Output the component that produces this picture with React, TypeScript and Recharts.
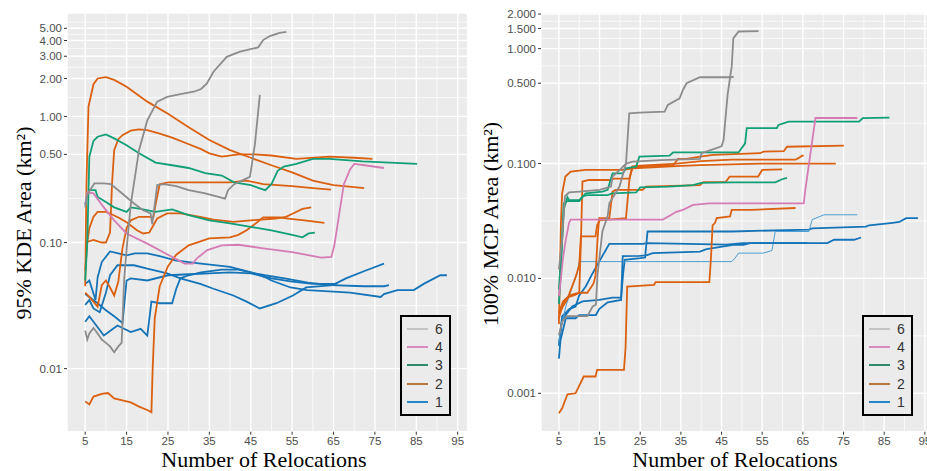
import { CartesianGrid, Line, LineChart, ReferenceLine, XAxis, YAxis } from "recharts"

type Pt = [number, number]

// axes
const xTicks = [5, 15, 25, 35, 45, 55, 65, 75, 85, 95]
const xMinor = [10, 20, 30, 40, 50, 60, 70, 80, 90]
const kdeTicks = [0.01, 0.1, 0.5, 1, 2, 3, 4, 5]
const kdeLabels = ["0.01", "0.10", "0.50", "1.00", "2.00", "3.00", "4.00", "5.00"]
const kdeMinor = [0.0316, 0.2236, 0.7071, 1.414, 2.449, 3.464, 4.472, 5.59]
const mcpTicks = [0.001, 0.01, 0.1, 0.5, 1, 1.5, 2]
const mcpLabels = ["0.001", "0.010", "0.100", "0.500", "1.000", "1.500", "2.000"]
const mcpMinor = [0.00316, 0.0316, 0.2236, 0.7071, 1.2247, 1.732]
const groups = ["6", "4", "3", "2", "1"]

const lineColor: Record<string, string> = { "6": "#8C8C8C", "4": "#D47DB4", "3": "#109F77", "2": "#DB6010", "1": "#1574B8" }
const keyColor: Record<string, string> = { "6": "#C4C4C4", "4": "#D98CC0", "3": "#2E8B6B", "2": "#B5763F", "1": "#2B86C7" }

// 95% KDE area, km2
const kdeG1: Pt[] = [[5, 0.02], [5.5, 0.017], [6, 0.019], [7, 0.021], [8, 0.019], [9, 0.017], [10, 0.016], [11, 0.015], [12, 0.0135], [13, 0.015], [13.8, 0.016], [14.4, 0.05], [15.2, 0.105], [16, 0.2], [18, 0.54], [20, 0.93], [22.4, 1.31], [24.8, 1.43], [28, 1.5], [31.2, 1.57], [33, 1.65], [34.4, 1.83], [36, 2.26], [39.2, 2.97], [42.4, 3.26], [46.8, 3.53], [48, 4.03], [49.6, 4.34], [52, 4.6], [53.6, 4.69]]
const kdeG2: Pt[] = [[5, 0.19], [5.5, 0.24], [7.2, 0.294], [9.6, 0.294], [11.2, 0.29], [13, 0.26], [16.8, 0.204], [19, 0.18], [20.8, 0.17], [21.2, 0.14], [21.8, 0.2], [22.4, 0.285], [24, 0.29], [27, 0.28], [30, 0.26], [34, 0.245], [38.8, 0.223], [39.5, 0.26], [41, 0.29], [44.8, 0.332], [46, 0.6], [47.2, 1.48]]
const kdeP: Pt[] = [[5, 0.2], [5.5, 0.25], [7, 0.245], [9.5, 0.19], [12, 0.15], [15, 0.118], [20, 0.098], [25, 0.08], [29, 0.068], [31, 0.068], [32, 0.075], [34.5, 0.087], [38, 0.095], [42, 0.096], [48, 0.09], [55, 0.084], [62, 0.076], [64.5, 0.077], [65.2, 0.095], [66, 0.14], [67.5, 0.29], [69, 0.38], [70, 0.42], [72.5, 0.41], [77.2, 0.39]]
const kdeGr1: Pt[] = [[5, 0.05], [5.5, 0.1], [6, 0.48], [7, 0.64], [8, 0.69], [10, 0.72], [12, 0.67], [15, 0.59], [18, 0.51], [22, 0.43], [26, 0.41], [30, 0.39], [34, 0.355], [38, 0.34], [41, 0.3], [45, 0.285], [47, 0.27], [48.5, 0.26], [50, 0.29], [51.5, 0.37], [53, 0.4], [56, 0.42], [60, 0.46], [64, 0.46], [72, 0.44], [85.2, 0.42]]
const kdeGr2: Pt[] = [[5, 0.2], [5.5, 0.24], [6, 0.26], [7.5, 0.26], [8, 0.23], [10, 0.21], [12, 0.19], [15, 0.175], [16, 0.19], [18, 0.186], [22, 0.175], [26, 0.183], [30, 0.165], [35, 0.15], [40, 0.142], [45, 0.133], [50, 0.125], [55, 0.115], [57.5, 0.11], [59, 0.118], [60.5, 0.12]]
const kdeO1: Pt[] = [[5, 0.045], [5.3, 0.3], [5.8, 1.2], [7, 1.8], [8, 2.0], [10, 2.05], [12, 1.95], [15, 1.72], [20, 1.31], [25, 1.05], [30, 0.82], [35, 0.65], [40, 0.54], [45, 0.47], [50, 0.41], [55, 0.36], [60, 0.31], [65, 0.285], [70, 0.275], [72.4, 0.27]]
const kdeO2: Pt[] = [[5, 0.1], [7, 0.105], [9, 0.1], [10, 0.1], [11, 0.12], [11.5, 0.3], [12, 0.54], [13, 0.66], [14, 0.71], [16, 0.77], [18, 0.79], [20, 0.78], [23, 0.73], [26, 0.68], [29.6, 0.61], [33, 0.55], [35, 0.51], [38, 0.48], [42, 0.5], [46, 0.5], [50, 0.49], [56, 0.46], [64, 0.48], [70, 0.47], [74.4, 0.46]]
const kdeO3: Pt[] = [[5, 0.0055], [6, 0.0052], [7, 0.006], [9, 0.0063], [10.5, 0.0064], [12, 0.0058], [14, 0.0056], [16, 0.0054], [18, 0.005], [20, 0.0047], [21, 0.0045], [21.3, 0.01], [21.8, 0.025], [23, 0.045], [25, 0.065], [27, 0.08], [30, 0.095], [35, 0.108], [40, 0.11], [42, 0.115], [44, 0.125], [46, 0.14], [48, 0.158], [52, 0.158], [54, 0.155], [58, 0.15], [62.8, 0.143]]
const kdeO4: Pt[] = [[5, 0.04], [6, 0.037], [8, 0.031], [9, 0.046], [10, 0.05], [11, 0.044], [12, 0.038], [13, 0.049], [14, 0.09], [15, 0.13], [16, 0.15], [18, 0.16], [20, 0.16], [21.5, 0.16], [22, 0.2], [23, 0.29], [25, 0.3], [30, 0.3], [35, 0.3], [40, 0.3], [44, 0.31], [48, 0.29], [55, 0.28], [60, 0.27], [64.4, 0.263]]
const kdeO5: Pt[] = [[5, 0.06], [5.5, 0.1], [6, 0.13], [7, 0.16], [8, 0.175], [10, 0.175], [11, 0.17], [13, 0.158], [15, 0.145], [17.5, 0.125], [19, 0.118], [20.5, 0.12], [22.4, 0.155], [24.8, 0.17], [28, 0.17], [32.8, 0.16], [36, 0.152], [40.8, 0.146], [45, 0.15], [51, 0.155], [53.5, 0.16], [55.2, 0.17], [57.5, 0.185], [59.6, 0.19]]
const kdeB1: Pt[] = [[5, 0.047], [6, 0.05], [7.5, 0.035], [8, 0.053], [9, 0.07], [11, 0.085], [13, 0.082], [15, 0.079], [17, 0.082], [20, 0.082], [23, 0.078], [27, 0.072], [30, 0.07], [33, 0.068], [40, 0.064], [46, 0.057], [48.4, 0.055], [53.2, 0.052], [58.8, 0.048], [64.4, 0.046], [72.4, 0.045], [77.2, 0.045], [78.4, 0.046]]
const kdeB2: Pt[] = [[5, 0.0235], [6, 0.026], [7, 0.0235], [9.5, 0.0183], [12.8, 0.022], [16, 0.0195], [18.4, 0.0207], [20, 0.0183], [21, 0.034], [23, 0.033], [26, 0.033], [27, 0.043], [28, 0.052], [30, 0.055], [33, 0.058], [38, 0.061], [42, 0.061], [46, 0.057], [48.5, 0.053], [50, 0.05], [54.6, 0.044], [58.6, 0.042], [64, 0.041], [69, 0.04], [76.4, 0.037], [77.2, 0.039], [80.4, 0.042], [84.4, 0.042], [86.8, 0.047], [90.8, 0.055], [92.4, 0.055]]
const kdeB3: Pt[] = [[5, 0.032], [6, 0.035], [7, 0.03], [8.5, 0.028], [10, 0.04], [11, 0.055], [12.8, 0.066], [16.8, 0.066], [20, 0.062], [24.8, 0.057], [28, 0.052], [32.8, 0.047], [36, 0.043], [40.8, 0.038], [44, 0.034], [47.2, 0.03], [51.2, 0.033], [55.2, 0.038], [58.4, 0.044], [64.8, 0.046], [68, 0.052], [72.8, 0.06], [77.2, 0.068]]
const kdeB4: Pt[] = [[5, 0.039], [6, 0.037], [8, 0.033], [10, 0.029], [12, 0.026], [14, 0.023], [15, 0.05], [16, 0.052], [20, 0.05], [25, 0.055], [30, 0.056], [35, 0.057], [40, 0.058], [45, 0.057], [50, 0.052], [55, 0.049], [60, 0.047], [66, 0.047]]

// 100% MCP area, km2
const mcpG1: Pt[] = [[5, 0.0032], [5.8, 0.0042], [7, 0.0047], [12, 0.0047], [13.3, 0.0057], [14.1, 0.0059], [14.5, 0.0108], [15.7, 0.0256], [17, 0.035], [17.4, 0.045], [19.9, 0.063], [21.5, 0.1], [22.3, 0.274], [24.8, 0.278], [31, 0.283], [31.8, 0.324], [34.7, 0.37], [35.5, 0.437], [36.4, 0.5], [39.7, 0.564], [47.1, 0.564], [47.5, 0.697], [47.9, 1.23], [49.2, 1.41], [54.1, 1.42]]
const mcpG2: Pt[] = [[5, 0.012], [5.8, 0.022], [6.5, 0.052], [7.5, 0.056], [10, 0.057], [15, 0.059], [17.8, 0.063], [18.2, 0.077], [20, 0.088], [21.5, 0.1], [23.2, 0.104], [30, 0.107], [39.7, 0.11], [40.1, 0.123], [45, 0.141], [45.5, 0.16], [46.5, 0.4], [47.1, 0.56], [48, 0.57]]
const mcpP: Pt[] = [[5, 0.007], [5.5, 0.01], [6, 0.015], [6.7, 0.0217], [7.5, 0.0305], [7.9, 0.0325], [30.6, 0.0325], [33.9, 0.038], [35.5, 0.0395], [38, 0.0436], [42, 0.045], [65.2, 0.045], [65.6, 0.059], [68.1, 0.249], [78.4, 0.249]]
const mcpGr1: Pt[] = [[5, 0.008], [5.5, 0.015], [5.8, 0.022], [6.2, 0.04], [7.1, 0.051], [7.5, 0.048], [10, 0.048], [11.6, 0.055], [15.7, 0.057], [17, 0.059], [17.8, 0.074], [18.2, 0.082], [20.7, 0.082], [21.5, 0.091], [24, 0.094], [24.8, 0.115], [32.2, 0.117], [33.1, 0.125], [49.2, 0.125], [50.8, 0.15], [51.2, 0.203], [58.6, 0.203], [59, 0.217], [61.5, 0.232], [78.8, 0.232], [79.7, 0.248], [86.3, 0.251]]
const mcpGr2: Pt[] = [[5, 0.006], [5.5, 0.012], [6.2, 0.045], [7, 0.047], [10, 0.047], [11, 0.052], [12, 0.053], [17, 0.053], [18, 0.055], [24, 0.056], [25, 0.062], [32, 0.063], [38, 0.065], [40, 0.068], [47.5, 0.0685], [58.2, 0.0685], [59.9, 0.073], [61.1, 0.075]]
const mcpO1: Pt[] = [[5, 0.0045], [6, 0.006], [7, 0.0068], [9, 0.0072], [10, 0.0075], [10.4, 0.02], [10.8, 0.0697], [12.4, 0.0719], [17.4, 0.0719], [18.6, 0.074], [22.3, 0.074], [23.2, 0.094], [24.8, 0.095], [33.1, 0.096], [34.3, 0.11], [36.4, 0.11], [39.7, 0.115], [43, 0.119], [54.5, 0.123], [55.3, 0.127], [60.3, 0.128], [61.1, 0.14], [75.1, 0.143]]
const mcpO2: Pt[] = [[5, 0.004], [5.5, 0.03], [5.8, 0.055], [6.6, 0.077], [7.9, 0.085], [11.6, 0.088], [20.7, 0.088], [23.2, 0.091], [33.9, 0.095], [39.7, 0.097], [54.5, 0.1], [73.1, 0.1]]
const mcpO3: Pt[] = [[5, 0.005], [7, 0.0065], [9, 0.01], [10, 0.013], [10.4, 0.0232], [14, 0.0232], [14.4, 0.029], [15, 0.032], [21.5, 0.0335], [22.3, 0.07], [23, 0.094], [25, 0.096], [34, 0.1], [40, 0.105], [47.5, 0.108], [63.2, 0.108], [64, 0.112], [64.8, 0.117], [65.2, 0.117]]
const mcpO4: Pt[] = [[5, 0.005], [6, 0.0063], [7, 0.0068], [8, 0.0072], [10, 0.0075], [12, 0.0075], [13.5, 0.009], [14, 0.0105], [14.5, 0.0217], [14.9, 0.0335], [17.4, 0.0335], [18.2, 0.057], [19, 0.059], [25.6, 0.059], [26.4, 0.063], [39.7, 0.065], [40.5, 0.069], [46, 0.069], [47, 0.077], [54, 0.077], [55, 0.088], [59.9, 0.089]]
const mcpO5: Pt[] = [[5, 0.00067], [5.8, 0.00074], [7.1, 0.00098], [9.1, 0.001], [11.1, 0.0014], [14, 0.0014], [14.4, 0.0016], [21, 0.0016], [21.4, 0.0025], [21.8, 0.0085], [28.4, 0.0088], [28.8, 0.0093], [42, 0.0093], [42.4, 0.015], [42.8, 0.029], [43.4, 0.0305], [43.8, 0.0335], [47.1, 0.0346], [47.5, 0.0395], [52.4, 0.0395], [63.2, 0.041]]
const mcpB1: Pt[] = [[5, 0.0026], [5.8, 0.0044], [8.3, 0.0057], [10.8, 0.0063], [14.9, 0.0065], [18.2, 0.0068], [20.3, 0.0068], [20.8, 0.011], [21.2, 0.0145], [25, 0.015], [26.2, 0.0152], [26.8, 0.0256], [47.5, 0.0256], [66.5, 0.0266], [67.3, 0.0273], [80.5, 0.0282], [81.3, 0.029], [87.1, 0.0305], [88.7, 0.031], [90.4, 0.0335], [93.3, 0.0335]]
const mcpB2: Pt[] = [[5, 0.0026], [5.8, 0.0047], [7.5, 0.0054], [9.1, 0.0057], [10, 0.0071], [11.6, 0.0085], [13.3, 0.0111], [14.9, 0.014], [17.4, 0.02], [25.6, 0.02], [26.8, 0.0203], [46.2, 0.0197], [50.3, 0.0203], [71, 0.0203], [72.7, 0.0217], [77.6, 0.0217], [79.3, 0.0227]]
const mcpB3: Pt[] = [[5, 0.0026], [5.4, 0.0036], [6.7, 0.0057], [8.3, 0.0085], [9.5, 0.011], [10, 0.014], [47.5, 0.014], [48.3, 0.015], [49.2, 0.0166], [55.3, 0.0166], [57.4, 0.0175], [58.2, 0.0256], [66.5, 0.0256], [67.3, 0.0325], [70.2, 0.0358], [78.4, 0.0358]]
const mcpB4: Pt[] = [[5, 0.002], [5.4, 0.0029], [6.2, 0.0038], [6.7, 0.0045], [9.1, 0.0045], [10, 0.0048], [14.1, 0.0048], [14.9, 0.0054], [17, 0.0062], [20.3, 0.0065], [20.7, 0.0156], [24.8, 0.0157], [26.5, 0.0159], [28.1, 0.0166], [39.7, 0.0171], [41.3, 0.018], [47.9, 0.0196], [50.4, 0.0196], [52, 0.0203], [66, 0.0203]]

type Series = { group: string; pts: Pt[]; thin?: boolean }

const kdeSeries: Series[] = [
  { group: "1", pts: kdeB1 }, { group: "1", pts: kdeB2 }, { group: "1", pts: kdeB3 }, { group: "1", pts: kdeB4 },
  { group: "2", pts: kdeO1 }, { group: "2", pts: kdeO2 }, { group: "2", pts: kdeO3 }, { group: "2", pts: kdeO4 }, { group: "2", pts: kdeO5 },
  { group: "3", pts: kdeGr1 }, { group: "3", pts: kdeGr2 },
  { group: "4", pts: kdeP },
  { group: "6", pts: kdeG1 }, { group: "6", pts: kdeG2 },
]

const mcpSeries: Series[] = [
  { group: "1", pts: mcpB1 }, { group: "1", pts: mcpB2 }, { group: "1", pts: mcpB3, thin: true }, { group: "1", pts: mcpB4 },
  { group: "2", pts: mcpO1 }, { group: "2", pts: mcpO2 }, { group: "2", pts: mcpO3 }, { group: "2", pts: mcpO4 }, { group: "2", pts: mcpO5 },
  { group: "3", pts: mcpGr1 }, { group: "3", pts: mcpGr2 },
  { group: "4", pts: mcpP },
  { group: "6", pts: mcpG1 }, { group: "6", pts: mcpG2 },
]

const tickFont = { fill: "#4D4D4D", fontSize: 11.5, fontFamily: "Liberation Sans, Arial, sans-serif" }
const titleFont = { fontFamily: "Liberation Serif, Times New Roman, serif", fontSize: 22, color: "#000" }

type PanelProps = {
  left: number
  width: number
  top: number
  yWidth: number
  yDomain: [number, number]
  yTicks: number[]
  yLabels: string[]
  yMinor: number[]
  series: Series[]
}

function Panel({ left, width, top, yWidth, yDomain, yTicks, yLabels, yMinor, series }: PanelProps) {
  return (
    <div style={{ position: "absolute", left, top: 0 }}>
      <LineChart width={width} height={471} margin={{ top, right: 0.4, bottom: 19.3, left: 0 }}>
        <CartesianGrid fill="#EBEBEB" fillOpacity={1} stroke="#FFFFFF" strokeWidth={1.4} />
        {xMinor.map((v) => (
          <ReferenceLine key={"vx" + v} x={v} stroke="#FFFFFF" strokeWidth={0.7} />
        ))}
        {yMinor.map((v) => (
          <ReferenceLine key={"hy" + v} y={v} stroke="#FFFFFF" strokeWidth={0.7} />
        ))}
        <XAxis
          type="number"
          dataKey="x"
          domain={[0.6, 97.4]}
          ticks={xTicks}
          interval={0}
          allowDataOverflow
          axisLine={false}
          tickLine={{ stroke: "#333333" }}
          tickSize={3}
          tickMargin={2}
          height={20}
          tick={tickFont}
        />
        <YAxis
          type="number"
          scale="log"
          domain={yDomain}
          ticks={yTicks}
          interval={0}
          allowDataOverflow
          axisLine={false}
          tickLine={{ stroke: "#333333" }}
          tickSize={3}
          tickMargin={2}
          width={yWidth}
          tick={tickFont}
          tickFormatter={(v: number) => yLabels[yTicks.indexOf(v)] ?? String(v)}
        />
        {series.map((s, i) => (
          <Line
            key={i}
            data={s.pts.map(([x, y]) => ({ x, y }))}
            dataKey="y"
            type="linear"
            stroke={s.thin ? "#4C9ED6" : lineColor[s.group]}
            strokeWidth={s.thin ? 1 : 1.8}
            dot={false}
            activeDot={false}
            isAnimationActive={false}
          />
        ))}
      </LineChart>
    </div>
  )
}

function LegendBox({ left, top }: { left: number; top: number }) {
  return (
    <div
      style={{
        position: "absolute",
        left,
        top,
        width: 51,
        height: 101,
        boxSizing: "border-box",
        border: "2px solid #000",
        background: "#EBEBEB",
      }}
    >
      {groups.map((g, i) => (
        <div key={g} style={{ position: "absolute", left: 0, top: Math.round(12 + i * 18.2), width: 47, height: 0 }}>
          <div style={{ position: "absolute", left: 5, top: -1, width: 21, height: 2, background: keyColor[g] }} />
          <div
            style={{
              position: "absolute",
              left: 33,
              top: -9,
              fontFamily: "Liberation Sans, Arial, sans-serif",
              fontSize: 14,
              lineHeight: "18px",
              color: "#333",
            }}
          >
            {g}
          </div>
        </div>
      ))}
    </div>
  )
}

function Title({ x, y, text, rotate }: { x: number; y: number; text: string; rotate?: boolean }) {
  return (
    <div
      style={{
        ...titleFont,
        position: "absolute",
        left: x,
        top: y,
        whiteSpace: "nowrap",
        lineHeight: 0.85,
        transform: `translate(-50%, -50%)${rotate ? " rotate(-90deg)" : ""}`,
      }}
    >
      {text}
    </div>
  )
}

export default function App() {
  return (
    <div style={{ position: "absolute", left: 0, top: 0, width: 927, height: 471, overflow: "hidden", background: "#fff" }}>
      <Panel
        left={0}
        width={468}
        top={13}
        yWidth={67}
        yDomain={[0.00316, 6.61]}
        yTicks={kdeTicks}
        yLabels={kdeLabels}
        yMinor={kdeMinor}
        series={kdeSeries}
      />
      <Panel
        left={465}
        width={470}
        top={12.7}
        yWidth={76}
        yDomain={[0.000463, 2.056]}
        yTicks={mcpTicks}
        yLabels={mcpLabels}
        yMinor={mcpMinor}
        series={mcpSeries}
      />
      <LegendBox left={400} top={315} />
      <LegendBox left={862} top={315} />
      <Title x={264} y={459.5} text="Number of Relocations" />
      <Title x={735} y={459.5} text="Number of Relocations" />
      <Title x={24} y={223} text="95% KDE Area (km²)" rotate />
      <Title x={491} y={224} text="100% MCP Area (km²)" rotate />
    </div>
  )
}
